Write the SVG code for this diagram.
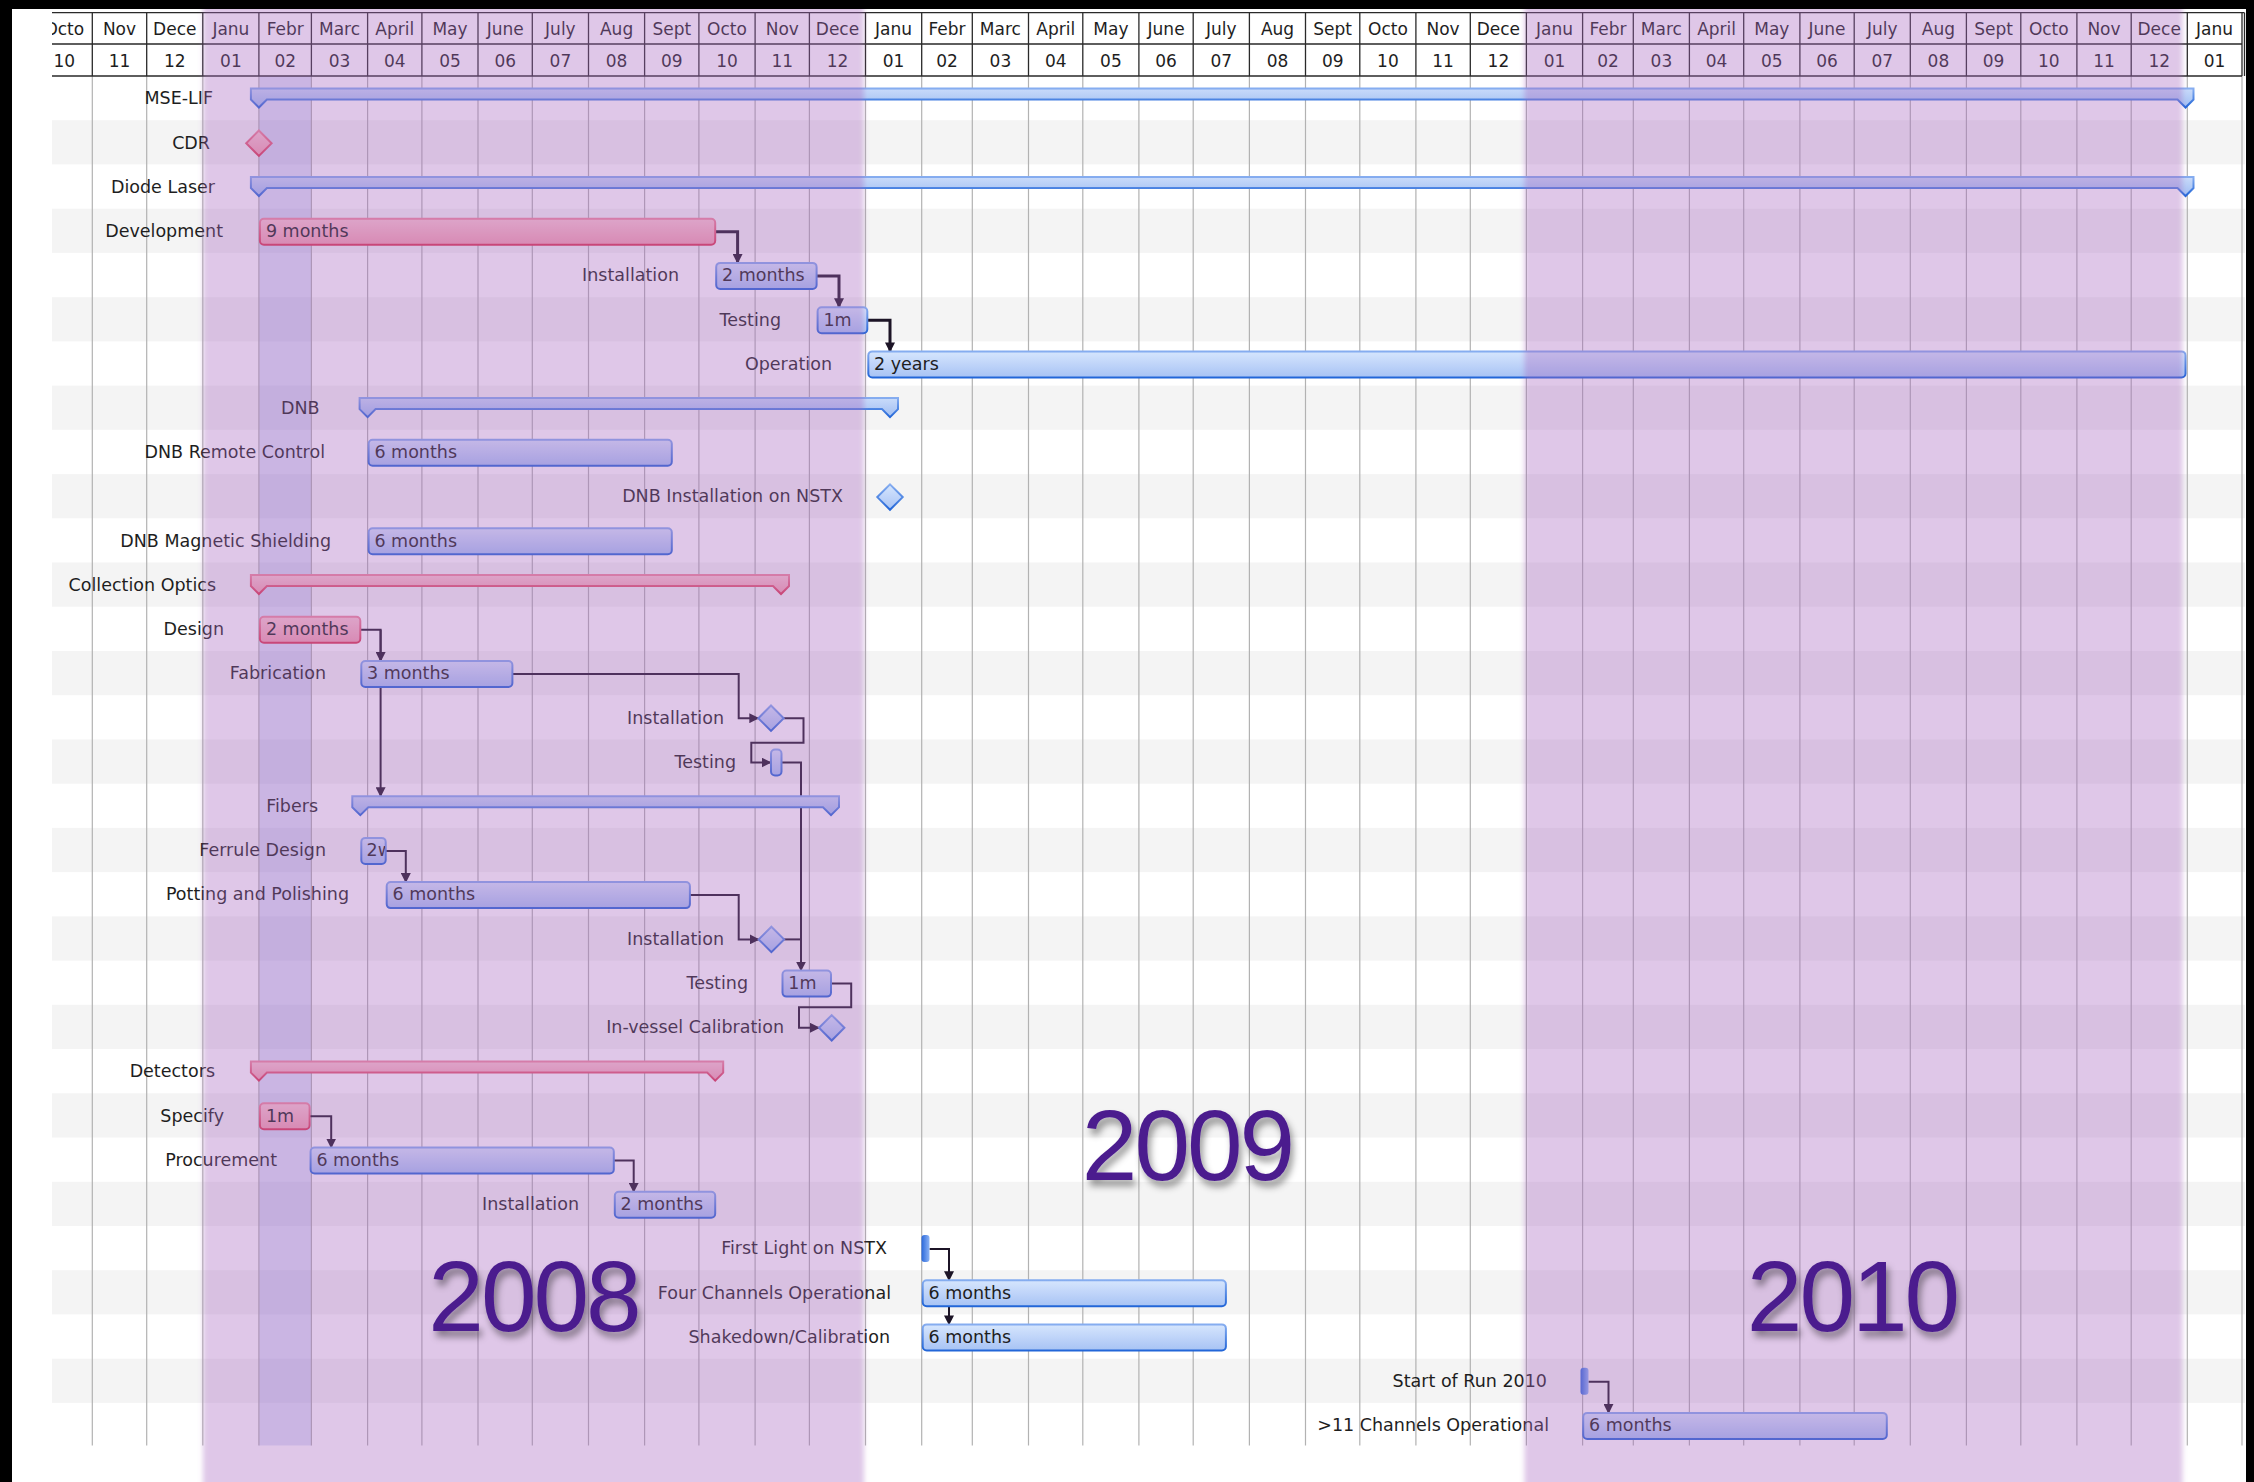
<svg xmlns="http://www.w3.org/2000/svg" width="2254" height="1482" viewBox="0 0 2254 1482">
<defs>
<style>
.lbl{font-family:"DejaVu Sans","Liberation Sans",sans-serif;font-size:17.5px;fill:#1e1e1e}
.end{text-anchor:end}
.hdr{font-family:"DejaVu Sans","Liberation Sans",sans-serif;font-size:17px;fill:#1e1e1e;text-anchor:middle}
.stripe{fill:#f4f4f4}
.grid{stroke:#b2b2b2;stroke-width:1.2}
.hl{stroke:#2a2a2a;stroke-width:1.3}
.blue{fill:url(#gBlue);stroke:url(#sBlue);stroke-width:2}
.bsum{fill:url(#gBsum);stroke:url(#sBlue);stroke-width:2}
.pink{fill:url(#gPink);stroke:url(#sPink);stroke-width:2}
.dark{fill:url(#gDark);stroke:none}
.conn{fill:none;stroke:#1c1426;stroke-width:2;marker-end:url(#arr)}
.thick{stroke-width:3}
.band{fill:rgb(166,100,190);fill-opacity:0.36}
.year{font-family:"Liberation Sans",Arial,sans-serif;font-size:100px;letter-spacing:-3px;fill:#4b1c8e;text-anchor:middle}
</style>
<linearGradient id="gBlue" x1="0" y1="0" x2="0" y2="1"><stop offset="0" stop-color="#d6e6fd"/><stop offset="0.5" stop-color="#bfd4f9"/><stop offset="1" stop-color="#a7c3f4"/></linearGradient>
<linearGradient id="gBsum" x1="0" y1="0" x2="0" y2="1"><stop offset="0" stop-color="#c9dbfa"/><stop offset="1" stop-color="#9fbdf2"/></linearGradient>
<linearGradient id="sBlue" x1="0" y1="0" x2="0" y2="1"><stop offset="0" stop-color="#86adf0"/><stop offset="1" stop-color="#2266d8"/></linearGradient>
<linearGradient id="gPink" x1="0" y1="0" x2="0" y2="1"><stop offset="0" stop-color="#fcc8cf"/><stop offset="1" stop-color="#f49fae"/></linearGradient>
<linearGradient id="sPink" x1="0" y1="0" x2="0" y2="1"><stop offset="0" stop-color="#f0899c"/><stop offset="1" stop-color="#dc3550"/></linearGradient>
<linearGradient id="gDark" x1="0" y1="0" x2="1" y2="0"><stop offset="0" stop-color="#2a68db"/><stop offset="1" stop-color="#8cb3f5"/></linearGradient>
<marker id="arr" viewBox="0 0 10 10" refX="9" refY="5" markerWidth="10" markerHeight="10" markerUnits="userSpaceOnUse" orient="auto"><path d="M0,0 L10,5 L0,10 z" fill="#1c1426"/></marker>
<filter id="soft" filterUnits="userSpaceOnUse" x="0" y="0" width="2254" height="1482"><feGaussianBlur stdDeviation="2.5"/></filter>
<filter id="shadow" x="-20%" y="-20%" width="150%" height="160%"><feDropShadow dx="3" dy="6" stdDeviation="3.5" flood-color="#000" flood-opacity="0.4"/></filter>
<clipPath id="hclip"><rect x="52" y="0" width="2192" height="80"/></clipPath>
<clipPath id="ferclip"><rect x="361" y="838" width="24" height="26"/></clipPath>
</defs>

<rect x="0" y="0" width="2254" height="1482" fill="#ffffff"/>

<g id="stripes">
<rect class="stripe" x="52" y="120.2" width="2193" height="44.2"/>
<rect class="stripe" x="52" y="208.7" width="2193" height="44.2"/>
<rect class="stripe" x="52" y="297.2" width="2193" height="44.2"/>
<rect class="stripe" x="52" y="385.6" width="2193" height="44.2"/>
<rect class="stripe" x="52" y="474.1" width="2193" height="44.2"/>
<rect class="stripe" x="52" y="562.5" width="2193" height="44.2"/>
<rect class="stripe" x="52" y="651.0" width="2193" height="44.2"/>
<rect class="stripe" x="52" y="739.5" width="2193" height="44.2"/>
<rect class="stripe" x="52" y="827.9" width="2193" height="44.2"/>
<rect class="stripe" x="52" y="916.4" width="2193" height="44.2"/>
<rect class="stripe" x="52" y="1004.8" width="2193" height="44.2"/>
<rect class="stripe" x="52" y="1093.3" width="2193" height="44.2"/>
<rect class="stripe" x="52" y="1181.8" width="2193" height="44.2"/>
<rect class="stripe" x="52" y="1270.2" width="2193" height="44.2"/>
<rect class="stripe" x="52" y="1358.7" width="2193" height="44.2"/>
</g>

<rect id="today-column" x="258.9" y="76" width="52.5" height="1369.5" fill="rgb(90,110,220)" fill-opacity="0.2"/>

<g id="grid">
<path class="grid" d="M92.3 76V1445.5M146.7 76V1445.5M202.8 76V1445.5M258.9 76V1445.5M311.4 76V1445.5M367.6 76V1445.5M421.9 76V1445.5M478 76V1445.5M532.3 76V1445.5M588.5 76V1445.5M644.6 76V1445.5M698.9 76V1445.5M755.1 76V1445.5M809.4 76V1445.5M865.5 76V1445.5M921.7 76V1445.5M972.3 76V1445.5M1028.5 76V1445.5M1082.8 76V1445.5M1138.9 76V1445.5M1193.2 76V1445.5M1249.4 76V1445.5M1305.5 76V1445.5M1359.8 76V1445.5M1415.9 76V1445.5M1470.3 76V1445.5M1526.4 76V1445.5M1582.6 76V1445.5M1633.3 76V1445.5M1689.4 76V1445.5M1743.7 76V1445.5M1799.9 76V1445.5M1854.2 76V1445.5M1910.3 76V1445.5M1966.4 76V1445.5M2020.8 76V1445.5M2076.9 76V1445.5M2131.2 76V1445.5M2187.3 76V1445.5M2242 76V1445.5"/>
</g>

<g id="header">
<path class="hl" d="M52 12.7H2244.5M52 44H2242M52 76H2242M92.3 12.7V76M146.7 12.7V76M202.8 12.7V76M258.9 12.7V76M311.4 12.7V76M367.6 12.7V76M421.9 12.7V76M478 12.7V76M532.3 12.7V76M588.5 12.7V76M644.6 12.7V76M698.9 12.7V76M755.1 12.7V76M809.4 12.7V76M865.5 12.7V76M921.7 12.7V76M972.3 12.7V76M1028.5 12.7V76M1082.8 12.7V76M1138.9 12.7V76M1193.2 12.7V76M1249.4 12.7V76M1305.5 12.7V76M1359.8 12.7V76M1415.9 12.7V76M1470.3 12.7V76M1526.4 12.7V76M1582.6 12.7V76M1633.3 12.7V76M1689.4 12.7V76M1743.7 12.7V76M1799.9 12.7V76M1854.2 12.7V76M1910.3 12.7V76M1966.4 12.7V76M2020.8 12.7V76M2076.9 12.7V76M2131.2 12.7V76M2187.3 12.7V76M2242 12.7V76M2244.5 12.7V76"/>
<g clip-path="url(#hclip)">
<text class="hdr" x="64.3" y="35">Octo</text><text class="hdr" x="64.3" y="66.5">10</text>
<text class="hdr" x="119.5" y="35">Nov</text><text class="hdr" x="119.5" y="66.5">11</text>
<text class="hdr" x="174.8" y="35">Dece</text><text class="hdr" x="174.8" y="66.5">12</text>
<text class="hdr" x="230.9" y="35">Janu</text><text class="hdr" x="230.9" y="66.5">01</text>
<text class="hdr" x="285.2" y="35">Febr</text><text class="hdr" x="285.2" y="66.5">02</text>
<text class="hdr" x="339.5" y="35">Marc</text><text class="hdr" x="339.5" y="66.5">03</text>
<text class="hdr" x="394.8" y="35">April</text><text class="hdr" x="394.8" y="66.5">04</text>
<text class="hdr" x="450" y="35">May</text><text class="hdr" x="450" y="66.5">05</text>
<text class="hdr" x="505.2" y="35">June</text><text class="hdr" x="505.2" y="66.5">06</text>
<text class="hdr" x="560.4" y="35">July</text><text class="hdr" x="560.4" y="66.5">07</text>
<text class="hdr" x="616.6" y="35">Aug</text><text class="hdr" x="616.6" y="66.5">08</text>
<text class="hdr" x="671.8" y="35">Sept</text><text class="hdr" x="671.8" y="66.5">09</text>
<text class="hdr" x="727" y="35">Octo</text><text class="hdr" x="727" y="66.5">10</text>
<text class="hdr" x="782.3" y="35">Nov</text><text class="hdr" x="782.3" y="66.5">11</text>
<text class="hdr" x="837.5" y="35">Dece</text><text class="hdr" x="837.5" y="66.5">12</text>
<text class="hdr" x="893.6" y="35">Janu</text><text class="hdr" x="893.6" y="66.5">01</text>
<text class="hdr" x="947" y="35">Febr</text><text class="hdr" x="947" y="66.5">02</text>
<text class="hdr" x="1000.4" y="35">Marc</text><text class="hdr" x="1000.4" y="66.5">03</text>
<text class="hdr" x="1055.7" y="35">April</text><text class="hdr" x="1055.7" y="66.5">04</text>
<text class="hdr" x="1110.9" y="35">May</text><text class="hdr" x="1110.9" y="66.5">05</text>
<text class="hdr" x="1166.1" y="35">June</text><text class="hdr" x="1166.1" y="66.5">06</text>
<text class="hdr" x="1221.3" y="35">July</text><text class="hdr" x="1221.3" y="66.5">07</text>
<text class="hdr" x="1277.5" y="35">Aug</text><text class="hdr" x="1277.5" y="66.5">08</text>
<text class="hdr" x="1332.7" y="35">Sept</text><text class="hdr" x="1332.7" y="66.5">09</text>
<text class="hdr" x="1387.9" y="35">Octo</text><text class="hdr" x="1387.9" y="66.5">10</text>
<text class="hdr" x="1443.1" y="35">Nov</text><text class="hdr" x="1443.1" y="66.5">11</text>
<text class="hdr" x="1498.4" y="35">Dece</text><text class="hdr" x="1498.4" y="66.5">12</text>
<text class="hdr" x="1554.5" y="35">Janu</text><text class="hdr" x="1554.5" y="66.5">01</text>
<text class="hdr" x="1608" y="35">Febr</text><text class="hdr" x="1608" y="66.5">02</text>
<text class="hdr" x="1661.4" y="35">Marc</text><text class="hdr" x="1661.4" y="66.5">03</text>
<text class="hdr" x="1716.6" y="35">April</text><text class="hdr" x="1716.6" y="66.5">04</text>
<text class="hdr" x="1771.8" y="35">May</text><text class="hdr" x="1771.8" y="66.5">05</text>
<text class="hdr" x="1827" y="35">June</text><text class="hdr" x="1827" y="66.5">06</text>
<text class="hdr" x="1882.3" y="35">July</text><text class="hdr" x="1882.3" y="66.5">07</text>
<text class="hdr" x="1938.4" y="35">Aug</text><text class="hdr" x="1938.4" y="66.5">08</text>
<text class="hdr" x="1993.6" y="35">Sept</text><text class="hdr" x="1993.6" y="66.5">09</text>
<text class="hdr" x="2048.8" y="35">Octo</text><text class="hdr" x="2048.8" y="66.5">10</text>
<text class="hdr" x="2104" y="35">Nov</text><text class="hdr" x="2104" y="66.5">11</text>
<text class="hdr" x="2159.2" y="35">Dece</text><text class="hdr" x="2159.2" y="66.5">12</text>
<text class="hdr" x="2214.6" y="35">Janu</text><text class="hdr" x="2214.6" y="66.5">01</text>
</g>
</g>

<g id="connectors">
<path class="conn thick" d="M715.2 231.7H737.6V262.9"/>
<path class="conn thick" d="M816.6 275.9H839V307.2"/>
<path class="conn thick" d="M867.3 320.2H890V351.4"/>
<path class="conn" d="M360.3 629.8H380.6V661"/>
<path class="conn" d="M380.6 629.8V796.2"/>
<path class="conn" d="M512.4 674H738.7V718.2H758.3"/>
<path class="conn" d="M783.7 718.2H803.5V742.7H751.3V762.5H770.5"/>
<path class="conn" d="M782 762.5H801V970.6"/>
<path class="conn" d="M385.7 850.9H405.8V882.1"/>
<path class="conn" d="M689.9 895.1H738.7V939.4H758.7"/>
<path class="conn" d="M784.1 939.4H801" style="marker-end:none"/>
<path class="conn" d="M831 983.6H851.2V1007.3H799V1027.8H819"/>
<path class="conn" d="M309.6 1116.3H331.2V1147.5"/>
<path class="conn" d="M613.8 1160.5H633.7V1191.8"/>
<path class="conn" d="M929.5 1249H949V1280.2"/>
<path class="conn" d="M949 1249V1324.4"/>
<path class="conn" d="M1588.5 1381.7H1608.5V1412.9"/>
</g>

<g id="n-mse-lif"><path class="bsum" d="M250.9 99.5L258.9 107.5L266.9 99.5H2177.5L2185.5 107.5L2193.5 99.5V88.5H250.9Z"/><text class="lbl end" x="213" y="104.3">MSE-LIF</text></g>
<g id="n-cdr"><path class="pink" d="M258.9 130.5L271.6 143.2L258.9 155.9L246.2 143.2Z"/><text class="lbl end" x="210" y="148.5">CDR</text></g>
<g id="n-diode-laser"><path class="bsum" d="M250.9 188L258.9 196L266.9 188H2177.5L2185.5 196L2193.5 188V177H250.9Z"/><text class="lbl end" x="215" y="192.8">Diode Laser</text></g>
<g id="n-development"><rect class="pink" x="259.9" y="218.7" width="455.3" height="26" rx="4"/><text class="lbl" x="265.9" y="237">9 months</text><text class="lbl end" x="223" y="237">Development</text></g>
<g id="n-dl-installation"><rect class="blue" x="716.2" y="262.9" width="100.4" height="26" rx="4"/><text class="lbl" x="722" y="281.2">2 months</text><text class="lbl end" x="679" y="281.2">Installation</text></g>
<g id="n-dl-testing"><rect class="blue" x="817.6" y="307.2" width="49.7" height="26" rx="4"/><text class="lbl" x="823.4" y="325.5">1m</text><text class="lbl end" x="781" y="325.5">Testing</text></g>
<g id="n-operation"><rect class="blue" x="868.3" y="351.4" width="1317.2" height="26" rx="4"/><text class="lbl" x="874" y="369.7">2 years</text><text class="lbl end" x="832" y="369.7">Operation</text></g>
<g id="n-dnb"><path class="bsum" d="M359.6 409.1L367.6 417.1L375.6 409.1H882L890 417.1L898 409.1V398.1H359.6Z"/><text class="lbl end" x="319.5" y="413.9">DNB</text></g>
<g id="n-dnb-remote"><rect class="blue" x="368.6" y="439.8" width="303.2" height="26" rx="4"/><text class="lbl" x="374.4" y="458.1">6 months</text><text class="lbl end" x="325" y="458.1">DNB Remote Control</text></g>
<g id="n-dnb-install"><path class="blue" d="M890 484.4L902.7 497.1L890 509.8L877.3 497.1Z"/><text class="lbl end" x="843" y="502.4">DNB Installation on NSTX</text></g>
<g id="n-dnb-shield"><rect class="blue" x="368.6" y="528.3" width="303.2" height="26" rx="4"/><text class="lbl" x="374.4" y="546.6">6 months</text><text class="lbl end" x="331" y="546.6">DNB Magnetic Shielding</text></g>
<g id="n-collection-optics"><path class="pink" d="M250.9 586L258.9 594L266.9 586H773L781 594L789 586V575H250.9Z"/><text class="lbl end" x="216" y="590.8">Collection Optics</text></g>
<g id="n-design"><rect class="pink" x="259.9" y="616.8" width="100.4" height="26" rx="4"/><text class="lbl" x="265.9" y="635.1">2 months</text><text class="lbl end" x="224" y="635.1">Design</text></g>
<g id="n-fabrication"><rect class="blue" x="361.3" y="661" width="151.1" height="26" rx="4"/><text class="lbl" x="367" y="679.3">3 months</text><text class="lbl end" x="326" y="679.3">Fabrication</text></g>
<g id="n-co-installation"><path class="blue" d="M771 705.5L783.7 718.2L771 730.9L758.3 718.2Z"/><text class="lbl end" x="724" y="723.5">Installation</text></g>
<g id="n-co-testing"><rect class="blue" x="771" y="749.5" width="10.5" height="26" rx="4"/><text class="lbl end" x="736" y="767.8">Testing</text></g>
<g id="n-fibers"><path class="bsum" d="M352.3 807.2L360.3 815.2L368.3 807.2H823L831 815.2L839 807.2V796.2H352.3Z"/><text class="lbl end" x="318" y="812">Fibers</text></g>
<g id="n-ferrule"><rect class="blue" x="361.3" y="837.9" width="24.4" height="26" rx="4"/><text class="lbl" x="366.5" y="856.2" clip-path="url(#ferclip)">2w</text><text class="lbl end" x="326" y="856.2">Ferrule Design</text></g>
<g id="n-potting"><rect class="blue" x="386.7" y="882.1" width="303.2" height="26" rx="4"/><text class="lbl" x="392.5" y="900.4">6 months</text><text class="lbl end" x="349" y="900.4">Potting and Polishing</text></g>
<g id="n-fib-installation"><path class="blue" d="M771.4 926.7L784.1 939.4L771.4 952.1L758.7 939.4Z"/><text class="lbl end" x="724" y="944.7">Installation</text></g>
<g id="n-fib-testing"><rect class="blue" x="782.5" y="970.6" width="48.5" height="26" rx="4"/><text class="lbl" x="788.3" y="988.9">1m</text><text class="lbl end" x="748" y="988.9">Testing</text></g>
<g id="n-in-vessel"><path class="blue" d="M831.7 1015.1L844.4 1027.8L831.7 1040.5L819 1027.8Z"/><text class="lbl end" x="784" y="1033.1">In-vessel Calibration</text></g>
<g id="n-detectors"><path class="pink" d="M250.9 1072.6L258.9 1080.6L266.9 1072.6H707.2L715.2 1080.6L723.2 1072.6V1061.6H250.9Z"/><text class="lbl end" x="215" y="1077.4">Detectors</text></g>
<g id="n-specify"><rect class="pink" x="259.9" y="1103.3" width="49.7" height="26" rx="4"/><text class="lbl" x="265.9" y="1121.6">1m</text><text class="lbl end" x="224" y="1121.6">Specify</text></g>
<g id="n-procurement"><rect class="blue" x="310.6" y="1147.5" width="303.2" height="26" rx="4"/><text class="lbl" x="316.4" y="1165.8">6 months</text><text class="lbl end" x="277" y="1165.8">Procurement</text></g>
<g id="n-det-installation"><rect class="blue" x="614.8" y="1191.8" width="100.4" height="26" rx="4"/><text class="lbl" x="620.6" y="1210.1">2 months</text><text class="lbl end" x="579" y="1210.1">Installation</text></g>
<g id="n-first-light"><rect class="dark" x="921.5" y="1235" width="8" height="27" rx="3"/><text class="lbl end" x="887" y="1254.3">First Light on NSTX</text></g>
<g id="n-four-channels"><rect class="blue" x="922.7" y="1280.2" width="303.2" height="26" rx="4"/><text class="lbl" x="928.5" y="1298.5">6 months</text><text class="lbl end" x="891" y="1298.5">Four Channels Operational</text></g>
<g id="n-shakedown"><rect class="blue" x="922.7" y="1324.4" width="303.2" height="26" rx="4"/><text class="lbl" x="928.5" y="1342.7">6 months</text><text class="lbl end" x="890" y="1342.7">Shakedown/Calibration</text></g>
<g id="n-start-run"><rect class="dark" x="1580.5" y="1367.7" width="8" height="27" rx="3"/><text class="lbl end" x="1547" y="1387">Start of Run 2010</text></g>
<g id="n-eleven-channels"><rect class="blue" x="1583.2" y="1412.9" width="303.6" height="26" rx="4"/><text class="lbl" x="1589" y="1431.2">6 months</text><text class="lbl end" x="1549" y="1431.2">&gt;11 Channels Operational</text></g>

<g id="year-bands" filter="url(#soft)">
<rect class="band" x="203" y="0" width="661" height="1490"/>
<rect class="band" x="1524.5" y="0" width="658" height="1490"/>
</g>

<g id="year-labels" filter="url(#shadow)">
<text class="year" x="533.5" y="1331">2008</text>
<text class="year" x="1187" y="1180">2009</text>
<text class="year" x="1852" y="1331">2010</text>
</g>

<g id="frame">
<rect x="0" y="0" width="2254" height="9" fill="#000"/>
<rect x="0" y="0" width="12" height="1482" fill="#000"/>
<rect x="2246" y="0" width="8" height="1482" fill="#000"/>
</g>
</svg>
